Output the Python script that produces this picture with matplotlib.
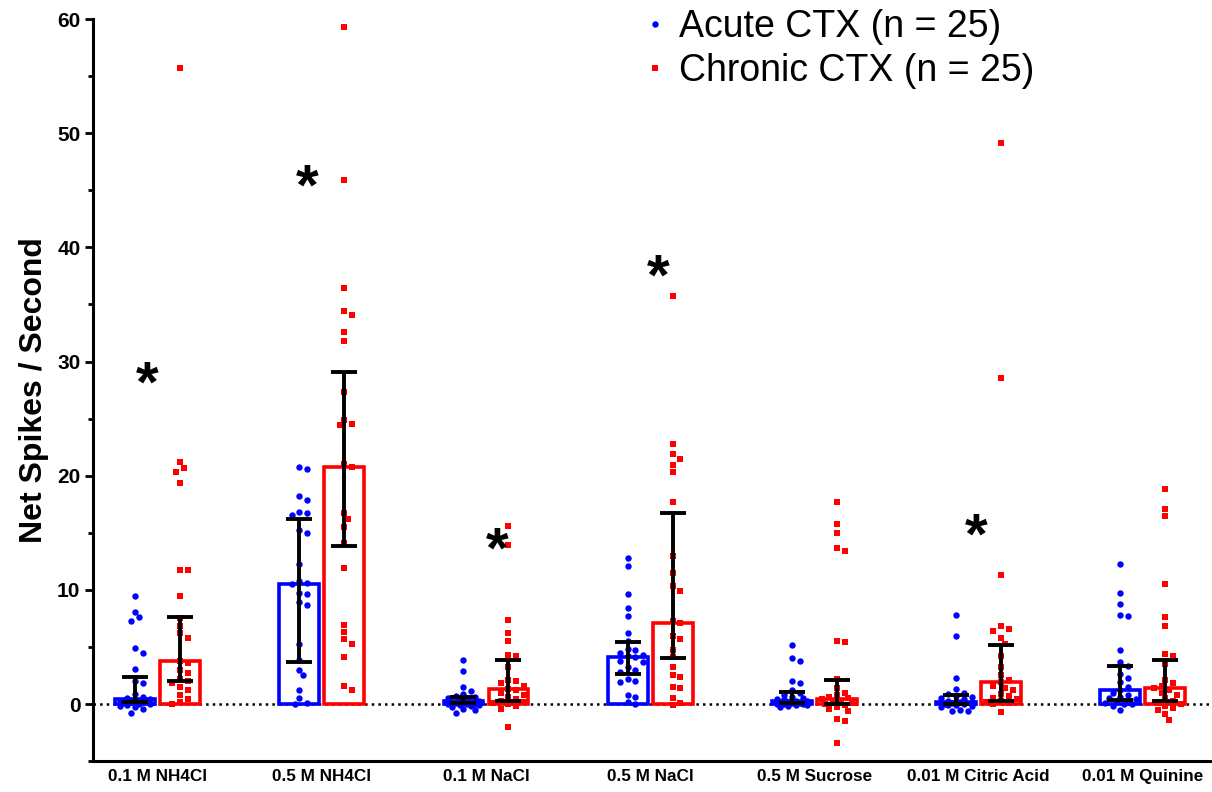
import numpy as np
import matplotlib
matplotlib.use("Agg")
import matplotlib.pyplot as plt
from matplotlib import font_manager
from matplotlib.ticker import MultipleLocator
from matplotlib.lines import Line2D
import matplotlib.transforms as mtransforms

# ---------------- data ----------------
categories = ["0.1 M NH4Cl", "0.5 M NH4Cl", "0.1 M NaCl", "0.5 M NaCl",
              "0.5 M Sucrose", "0.01 M Citric Acid", "0.01 M Quinine"]

acute_nh4cl_01 = [9.5, 8.1, 7.6, 7.3, 4.9, 4.5, 3.1, 2.0, 1.8, 0.9, 0.6, 0.5, 0.4,
                  0.3, 0.3, 0.2, 0.2, 0.1, 0.0, 0.0, -0.1, -0.2, -0.3, -0.4, -0.8]
acute_nh4cl_05 = [20.8, 20.6, 18.2, 17.9, 16.8, 16.7, 16.6, 15.2, 15.0, 12.3, 10.8, 10.6, 10.5,
                  9.7, 9.6, 8.9, 8.7, 5.3, 3.9, 3.0, 2.5, 1.2, 0.5, 0.1, 0.0]
acute_nacl_01 = [3.9, 2.9, 1.5, 1.1, 0.9, 0.7, 0.6, 0.5, 0.4, 0.3, 0.3, 0.2, 0.2,
                 0.1, 0.1, 0.0, 0.0, 0.0, -0.1, -0.1, -0.2, -0.3, -0.4, -0.5, -0.75]
acute_nacl_05 = [12.8, 12.1, 9.6, 8.4, 7.7, 6.2, 5.5, 4.8, 4.7, 4.5, 4.3, 4.2, 4.1,
                 3.8, 3.7, 3.2, 3.0, 2.8, 2.2, 2.0, 1.9, 0.8, 0.6, 0.2, 0.0]
acute_sucrose = [5.2, 4.0, 3.8, 2.0, 1.8, 1.2, 1.0, 0.8, 0.6, 0.5, 0.4, 0.4, 0.3,
                 0.3, 0.2, 0.2, 0.1, 0.1, 0.0, 0.0, 0.0, -0.1, -0.1, -0.2, -0.3]
acute_citric = [7.8, 6.0, 2.3, 1.3, 1.0, 0.9, 0.7, 0.6, 0.5, 0.4, 0.3, 0.3, 0.2,
                0.2, 0.1, 0.1, 0.0, 0.0, -0.1, -0.1, -0.2, -0.3, -0.5, -0.6, -0.6]
acute_quinine = [12.3, 9.7, 8.8, 7.8, 7.7, 4.75, 3.7, 3.3, 2.6, 2.3, 1.9, 1.5, 1.2,
                 1.0, 0.8, 0.6, 0.5, 0.4, 0.3, 0.2, 0.1, 0.0, 0.0, -0.2, -0.5]

chronic_nh4cl_01 = [55.7, 21.2, 20.7, 20.3, 19.4, 11.7, 11.7, 9.5, 7.5, 6.8, 6.2, 5.8, 3.8,
                    3.6, 3.0, 2.7, 2.2, 2.0, 1.8, 1.5, 1.2, 0.8, 0.4, 0.2, 0.0]
chronic_nh4cl_05 = [59.3, 45.9, 36.4, 34.4, 34.1, 32.6, 31.8, 27.3, 24.9, 24.5, 24.4, 21.0, 20.8,
                    16.7, 16.2, 15.5, 14.1, 11.9, 6.9, 6.3, 5.7, 5.3, 4.1, 1.6, 1.25]
chronic_nacl_01 = [15.6, 13.9, 7.4, 6.2, 5.5, 4.3, 4.2, 3.2, 2.1, 2.0, 1.8, 1.6, 1.3,
                   1.2, 1.0, 0.8, 0.6, 0.4, 0.3, 0.2, 0.1, 0.0, -0.2, -0.4, -2.0]
chronic_nacl_05 = [35.7, 22.8, 21.9, 21.5, 20.9, 20.3, 17.7, 13.0, 11.5, 10.3, 9.9, 7.3, 7.1,
                   6.0, 5.7, 4.7, 4.1, 3.2, 2.5, 2.4, 1.5, 1.4, 0.5, 0.1, -0.1]
chronic_sucrose = [17.7, 15.8, 15.0, 13.7, 13.4, 5.5, 5.4, 2.2, 1.4, 1.0, 0.8, 0.6, 0.5,
                   0.4, 0.3, 0.2, 0.1, 0.0, -0.1, -0.3, -0.4, -0.6, -1.3, -1.5, -3.45]
chronic_citric = [49.1, 28.6, 11.3, 6.8, 6.6, 6.4, 5.8, 5.3, 4.2, 3.2, 2.5, 2.1, 1.9,
                  1.6, 1.4, 1.2, 0.9, 0.7, 0.5, 0.4, 0.3, 0.2, 0.1, 0.0, -0.7]
chronic_quinine = [18.8, 17.1, 16.5, 10.5, 7.6, 6.8, 4.4, 4.2, 3.5, 2.1, 1.8, 1.6, 1.4,
                   1.2, 1.0, 0.8, 0.5, 0.3, 0.1, 0.0, -0.2, -0.35, -0.5, -0.9, -1.4]

acute_points = [acute_nh4cl_01, acute_nh4cl_05, acute_nacl_01, acute_nacl_05,
                acute_sucrose, acute_citric, acute_quinine]
chronic_points = [chronic_nh4cl_01, chronic_nh4cl_05, chronic_nacl_01, chronic_nacl_05,
                  chronic_sucrose, chronic_citric, chronic_quinine]

# bar heights (median) and error bars (interquartile range)
acute_median = [0.4, 10.5, 0.3, 4.1, 0.3, 0.2, 1.2]
acute_q1 = [0.2, 3.7, 0.1, 2.6, 0.05, 0.0, 0.35]
acute_q3 = [2.4, 16.2, 0.6, 5.4, 1.05, 0.8, 3.3]
chronic_median = [3.8, 20.8, 1.3, 7.1, 0.4, 1.9, 1.4]
chronic_q1 = [2.0, 13.8, 0.25, 4.0, 0.0, 0.3, 0.3]
chronic_q3 = [7.6, 29.1, 3.9, 16.75, 2.1, 5.2, 3.9]

# significance stars: (group index, value)
star_groups = [0, 1, 2, 3, 5]
star_values = [28.8, 46.1, 14.3, 38.2, 15.5]
star_shift = [-0.064, -0.088, 0.07, 0.046, -0.015]

legend_labels = ["Acute CTX (n = 25)", "Chronic CTX (n = 25)"]
y_label = "Net Spikes / Second"

# ---------------- fonts ----------------
names = {f.name for f in font_manager.fontManager.ttflist}
base_font = "Liberation Sans" if "Liberation Sans" in names else "DejaVu Sans"
narrow = "Liberation Sans Narrow" in names
tick_font = "Liberation Sans Narrow" if narrow else base_font
tick_size = 14.5 if narrow else 12.3
plt.rcParams["font.family"] = [base_font, "DejaVu Sans"]

BLUE = "#0000ff"
RED = "#ff0000"

fig = plt.figure(figsize=(12.12, 7.92), dpi=100)
ax = fig.add_axes([0.0767, 0.039, 0.9213, 0.937])
xmin, xmax = -0.393, 6.406
ymin, ymax = -5, 60
ax.set_xlim(xmin, xmax)
ax.set_ylim(ymin, ymax)

# pixel scales for swarm layout
pos = ax.get_position()
px_x = pos.width * fig.get_figwidth() * fig.dpi / (xmax - xmin)
px_y = pos.height * fig.get_figheight() * fig.dpi / (ymax - ymin)


def swarm_offsets(vals, d_px=6.4, max_px=19):
    vals = np.asarray(vals, dtype=float)
    order = np.argsort(-vals)
    placed = []
    offs = np.zeros(len(vals))
    step = d_px * 0.6
    cands = [0.0]
    for k in range(1, 12):
        cands += [k * step, -k * step]
    for i in order:
        yy = vals[i] * px_y
        best, best_score = 0.0, -1
        for c in cands:
            if abs(c) > max_px:
                continue
            mind = min([np.hypot(c - px, yy - py) for px, py in placed] + [1e9])
            if mind >= d_px:
                best = c
                break
            if mind > best_score:
                best_score, best = mind, c
        placed.append((best, yy))
        offs[i] = best / px_x
    return offs


x = np.arange(len(categories))
off = 0.137
bw = 0.243

ax.bar(x - off, acute_median, width=bw, facecolor="none", edgecolor=BLUE,
       linewidth=2.6, zorder=2)
ax.bar(x + off, chronic_median, width=bw, facecolor="none", edgecolor=RED,
       linewidth=2.6, zorder=2)

for i in range(len(categories)):
    a = np.asarray(acute_points[i])
    c = np.asarray(chronic_points[i])
    ax.plot(x[i] - off + swarm_offsets(a), a, "o", color=BLUE, ms=4.6,
            mew=0, zorder=3, linestyle="none")
    ax.plot(x[i] + off + swarm_offsets(c), c, "s", color=RED, ms=4.4,
            mew=0, zorder=3, linestyle="none")

am = np.asarray(acute_median)
cm = np.asarray(chronic_median)
ax.errorbar(x - off, am, yerr=[am - np.asarray(acute_q1), np.asarray(acute_q3) - am],
            fmt="none", ecolor="black", elinewidth=2.8, capsize=9.5, capthick=2.8, zorder=4)
ax.errorbar(x + off, cm, yerr=[cm - np.asarray(chronic_q1), np.asarray(chronic_q3) - cm],
            fmt="none", ecolor="black", elinewidth=2.8, capsize=9.5, capthick=2.8, zorder=4)

ax.axhline(0, color="black", linestyle=":", linewidth=1.8, zorder=1)

# stars
star_fs = 42
for g, v, s in zip(star_groups, star_values, star_shift):
    tr = mtransforms.offset_copy(ax.transData, fig=fig, x=0, y=-0.46 * star_fs, units="points")
    ax.text(x[g] + s, v, "*", ha="center", va="baseline", fontsize=star_fs,
            fontweight="bold", color="black", transform=tr, zorder=5)

# axes styling
for sp in ["top", "right"]:
    ax.spines[sp].set_visible(False)
ax.spines["left"].set_linewidth(2.2)
ax.spines["bottom"].set_linewidth(2.2)
ax.yaxis.set_major_locator(MultipleLocator(10))
ax.yaxis.set_minor_locator(MultipleLocator(5))
ax.set_yticks(np.arange(0, 61, 10))
ax.tick_params(axis="y", which="major", length=6, width=2.0, labelsize=15, pad=3)
ax.tick_params(axis="y", which="minor", length=3.5, width=2.0)
for lab in ax.get_yticklabels():
    lab.set_fontweight("heavy")
ax.set_xticks(x)
ax.set_xticklabels(categories, fontfamily=tick_font, fontweight="bold", fontsize=tick_size)
ax.tick_params(axis="x", length=0, pad=6)
ax.set_ylabel(y_label, fontsize=23, fontweight="bold", labelpad=6)

handles = [Line2D([], [], marker="o", color=BLUE, ms=4.6, mew=0, linestyle="none"),
           Line2D([], [], marker="s", color=RED, ms=4.4, mew=0, linestyle="none")]
fig.legend(handles, legend_labels, loc="upper left", bbox_to_anchor=(636 / 1212, 1 - 9 / 792),
           frameon=False, fontsize=27, handlelength=1.0, handletextpad=0.15,
           labelspacing=0.22, borderpad=0, borderaxespad=0)

fig.savefig("out.png", dpi=100)
